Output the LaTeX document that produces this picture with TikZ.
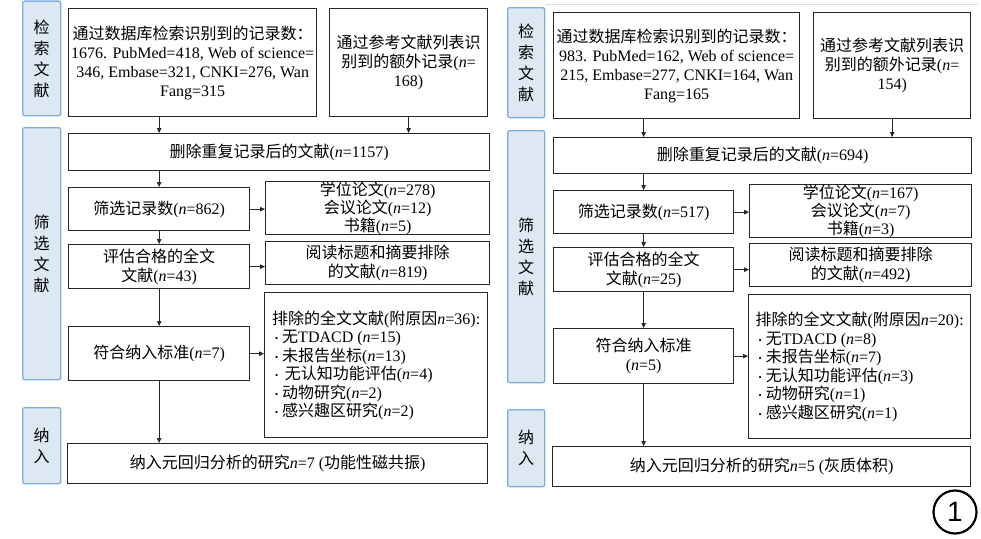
\documentclass[tikz,border=0pt]{standalone}
\usepackage{fontspec}
\setmainfont{Liberation Serif}
\newfontfamily\cjk{Noto Sans CJK SC}
\newfontfamily\sansf{Liberation Sans}
\usetikzlibrary{arrows.meta}
\newcommand\zh[1]{{\cjk #1}}
\newcommand\nn{\textit{n}}
\newcommand\bul{\hspace{3pt}\raisebox{1pt}{\fontsize{9}{9}\selectfont\textbullet}\hspace{4pt}}
\definecolor{sidefill}{HTML}{DDE8F3}
\definecolor{sideline}{HTML}{7AAEE0}
\tikzset{
  box/.style={draw=black!85, line width=1.3pt, align=center, inner sep=0pt, anchor=north west},
  side/.style={draw=sideline, fill=sidefill, line width=1.3pt, rounded corners=2pt, align=center, inner sep=0pt, anchor=north west},
  arr/.style={-{Triangle[length=5pt,width=4.5pt]}, line width=0.8pt, draw=black!85},
}
\newcommand\bx[7][]{\node[box,#1,minimum width={#5pt-#3pt},minimum height={#6pt-#4pt}] (#2) at (#3,#4) {#7};}
\newcommand\sd[6]{\node[side,minimum width={#4pt-#2pt},minimum height={#5pt-#3pt}] (#1) at (#2,#3) {#6};}
\begin{document}
\begin{tikzpicture}[x=1pt,y=-1pt,font=\fontsize{16}{19}\selectfont]
\useasboundingbox (0,0) rectangle (981,538);
% ---------------- left panel ----------------
\sd{Ls1}{22}{0.5}{60}{115}{\zh{检}\\[2pt]\zh{索}\\[2pt]\zh{文}\\[2pt]\zh{献}}
\sd{Ls2}{22}{127}{60}{379}{\zh{筛}\\[2pt]\zh{选}\\[2pt]\zh{文}\\[2pt]\zh{献}}
\sd{Ls3}{22}{407}{60}{483}{\zh{纳}\\[2pt]\zh{入}}
\bx{Ldb}{68}{8}{316}{116}{\zh{通过数据库检索识别到的记录数：}\\1676. PubMed=418, Web of science=\\346, Embase=321, CNKI=276, Wan\\Fang=315}
\bx{Lref}{329}{8}{487}{116}{\zh{通过参考文献列表识}\\\zh{别到的额外记录}(\nn=\\168)}
\bx{Ldel}{68}{133}{489}{170}{\zh{删除重复记录后的文献}(\nn=1157)}
\bx{Lscr}{68}{187}{249}{230}{\zh{筛选记录数}(\nn=862)}
\bx[font=\fontsize{16}{16.5}\selectfont]{Lthe}{265}{181}{489}{232}{\zh{学位论文}(\nn=278)\\\zh{会议论文}(\nn=12)\\\zh{书籍}(\nn=5)}
\bx{Leva}{68}{244}{249}{288}{\zh{评估合格的全文}\\\zh{文献}(\nn=43)}
\bx{Lrea}{265}{241}{489}{284}{\zh{阅读标题和摘要排除}\\\zh{的文献}(\nn=819)}
\bx{Linc}{68}{326}{249}{380}{\zh{符合纳入标准}(\nn=7)}
\bx[align=left,font=\fontsize{16}{18.5}\selectfont]{Lexc}{264}{292}{487}{437}{\zh{排除的全文文献}(\zh{附原因}\nn=36):\\\bul\zh{无}TDACD (\nn=15)\\\bul\zh{未报告坐标}(\nn=13)\\\bul\,\zh{无认知功能评估}(\nn=4)\\\bul\zh{动物研究}(\nn=2)\\\bul\zh{感兴趣区研究}(\nn=2)}
\bx{Lfin}{67}{443}{487}{483}{\zh{纳入元回归分析的研究}\nn=7 (\zh{功能性磁共振})}
\draw[arr] (Ldb.south -| Lscr) -- (Ldel.north -| Lscr);
\draw[arr] (Lref.south) -- (Lref.south |- Ldel.north);
\draw[arr] (Ldel.south -| Lscr) -- (Lscr.north);
\draw[arr] (Lscr.south) -- (Leva.north);
\draw[arr] (Leva.south) -- (Linc.north);
\draw[arr] (Linc.south) -- (Linc.south |- Lfin.north);
\draw[arr] (Lscr.east) -- (Lscr.east -| Lthe.west);
\draw[arr] (Leva.east) -- (Leva.east -| Lrea.west);
\draw[arr] (Linc.east) -- (Linc.east -| Lexc.west);
% ---------------- right panel ----------------
\draw[gray!25, line width=1.5pt] (545,4.5) -- (978,4.5);
\sd{Rs1}{507}{7}{544}{117}{\zh{检}\\[2pt]\zh{索}\\[2pt]\zh{文}\\[2pt]\zh{献}}
\sd{Rs2}{507}{130}{544}{382}{\zh{筛}\\[2pt]\zh{选}\\[2pt]\zh{文}\\[2pt]\zh{献}}
\sd{Rs3}{507}{409}{544}{486}{\zh{纳}\\[2pt]\zh{入}}
\bx{Rdb}{553}{12}{799}{118}{\zh{通过数据库检索识别到的记录数：}\\983. PubMed=162, Web of science=\\215, Embase=277, CNKI=164, Wan\\Fang=165}
\bx{Rref}{813}{12}{970}{118}{\zh{通过参考文献列表识}\\\zh{别到的额外记录}(\nn=\\154)}
\bx{Rdel}{553}{137}{971}{173}{\zh{删除重复记录后的文献}(\nn=694)}
\bx{Rscr}{553}{190}{733}{233}{\zh{筛选记录数}(\nn=517)}
\bx[font=\fontsize{16}{16.5}\selectfont]{Rthe}{749}{184}{971}{236}{\zh{学位论文}(\nn=167)\\\zh{会议论文}(\nn=7)\\\zh{书籍}(\nn=3)}
\bx{Reva}{553}{247}{733}{291}{\zh{评估合格的全文}\\\zh{文献}(\nn=25)}
\bx{Rrea}{749}{243}{971}{286}{\zh{阅读标题和摘要排除}\\\zh{的文献}(\nn=492)}
\bx{Rinc}{553}{328}{733}{383}{\zh{符合纳入标准}\\(\nn=5)}
\bx[align=left,font=\fontsize{16}{18.5}\selectfont]{Rexc}{748}{294}{970}{438}{\zh{排除的全文文献}(\zh{附原因}\nn=20):\\\bul\zh{无}TDACD (\nn=8)\\\bul\zh{未报告坐标}(\nn=7)\\\bul\zh{无认知功能评估}(\nn=3)\\\bul\zh{动物研究}(\nn=1)\\\bul\zh{感兴趣区研究}(\nn=1)}
\bx{Rfin}{552}{446}{970}{486}{\zh{纳入元回归分析的研究}\nn=5 (\zh{灰质体积})}
\draw[arr] (Rdb.south -| Rscr) -- (Rdel.north -| Rscr);
\draw[arr] (Rref.south) -- (Rref.south |- Rdel.north);
\draw[arr] (Rdel.south -| Rscr) -- (Rscr.north);
\draw[arr] (Rscr.south) -- (Reva.north);
\draw[arr] (Reva.south) -- (Rinc.north);
\draw[arr] (Rinc.south) -- (Rinc.south |- Rfin.north);
\draw[arr] (Rscr.east) -- (Rscr.east -| Rthe.west);
\draw[arr] (Reva.east) -- (Reva.east -| Rrea.west);
\draw[arr] (Rinc.east) -- (Rinc.east -| Rexc.west);
% ---------------- figure number ----------------
\node[circle, draw, line width=2.2pt, minimum size=43pt, inner sep=0pt, font=\sansf\fontsize{28}{28}\selectfont] (num) at (955,512) {1};
\end{tikzpicture}
\end{document}
